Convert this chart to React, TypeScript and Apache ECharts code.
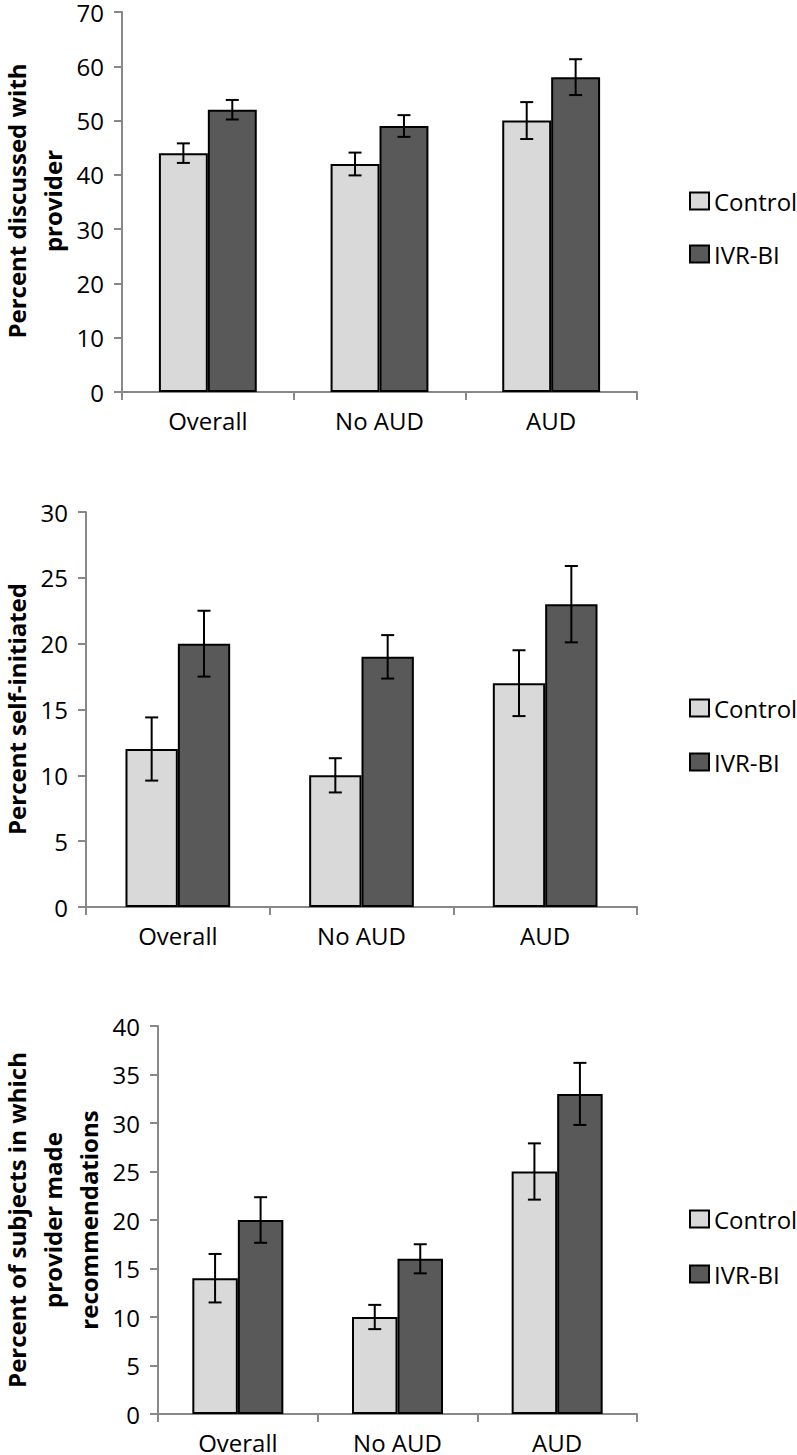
import React, { useEffect, useRef } from "react";
import * as echarts from "echarts";

const categories = ["Overall", "No AUD", "AUD"];
const seriesNames = ["Control", "IVR-BI"];

const discussedControl = [44, 42, 50];
const discussedControlErr = [1.8, 2.1, 3.4];
const discussedIVR = [52, 49, 58];
const discussedIVRErr = [1.8, 2.0, 3.3];

const selfControl = [12, 10, 17];
const selfControlErr = [2.4, 1.3, 2.5];
const selfIVR = [20, 19, 23];
const selfIVRErr = [2.5, 1.65, 2.9];

const recControl = [14, 10, 25];
const recControlErr = [2.5, 1.25, 2.9];
const recIVR = [20, 16, 33];
const recIVRErr = [2.35, 1.5, 3.2];

const yMax = [70, 30, 40];
const yInterval = [10, 5, 5];
const yTitleLines = [
  ["Percent discussed with", "provider"],
  ["Percent self-initiated"],
  ["Percent of subjects in which", "provider made", "recommendations"],
];

const FONT = '"Open Sans", "Noto Sans", sans-serif';
const GAP = 0.43;
const CONTROL_COLOR = "#d9d9d9";
const IVR_COLOR = "#595959";
const AXIS_COLOR = "#888888";

const grids = [
  { left: 122, top: 11, width: 515, height: 381 },
  { left: 86, top: 512, width: 551, height: 395 },
  { left: 158, top: 1026, width: 479, height: 388 },
];
const titleFirstX = 16.5;
const titleLineStep = 36;
const titleCenterY = [201, 709, 1220];
const legendPos = [
  { top: 184, gap: 29 },
  { top: 691, gap: 30 },
  { top: 1202, gap: 31 },
];

const panels = [
  { c: discussedControl, ce: discussedControlErr, v: discussedIVR, ve: discussedIVRErr },
  { c: selfControl, ce: selfControlErr, v: selfIVR, ve: selfIVRErr },
  { c: recControl, ce: recControlErr, v: recIVR, ve: recIVRErr },
];

function errRenderer(sign: number) {
  return (params: any, api: any) => {
    const cat = api.value(0);
    const lo = api.coord([cat, api.value(1)]);
    const hi = api.coord([cat, api.value(2)]);
    const band = api.size([1, 0])[0];
    const barW = (band * (1 - GAP)) / 2;
    const x = lo[0] + (sign * barW) / 2;
    const cap = 6.5;
    const st = { stroke: "#000", lineWidth: 2 };
    return {
      type: "group",
      children: [
        { type: "line", shape: { x1: x, y1: lo[1], x2: x, y2: hi[1] }, style: st },
        { type: "line", shape: { x1: x - cap, y1: hi[1], x2: x + cap, y2: hi[1] }, style: st },
        { type: "line", shape: { x1: x - cap, y1: lo[1], x2: x + cap, y2: lo[1] }, style: st },
      ],
    };
  };
}

export default function App() {
  const ref = useRef<HTMLDivElement>(null);
  useEffect(() => {
    if (!ref.current) return;
    const chart = echarts.init(ref.current, null, { renderer: "svg" });
    const series: any[] = [];
    panels.forEach((p, i) => {
      series.push({
        type: "bar",
        name: seriesNames[0],
        xAxisIndex: i,
        yAxisIndex: i,
        data: p.c,
        barGap: "0%",
        barCategoryGap: GAP * 100 + "%",
        itemStyle: { color: CONTROL_COLOR, borderColor: "#000", borderWidth: 2 },
      });
      series.push({
        type: "bar",
        name: seriesNames[1],
        xAxisIndex: i,
        yAxisIndex: i,
        data: p.v,
        barGap: "0%",
        barCategoryGap: GAP * 100 + "%",
        itemStyle: { color: IVR_COLOR, borderColor: "#000", borderWidth: 2 },
      });
      series.push({
        type: "custom",
        name: "Control error",
        xAxisIndex: i,
        yAxisIndex: i,
        z: 10,
        encode: { x: 0, y: [1, 2] },
        renderItem: errRenderer(-1),
        data: p.c.map((val, k) => [k, val - p.ce[k], val + p.ce[k]]),
      });
      series.push({
        type: "custom",
        name: "IVR-BI error",
        xAxisIndex: i,
        yAxisIndex: i,
        z: 10,
        encode: { x: 0, y: [1, 2] },
        renderItem: errRenderer(1),
        data: p.v.map((val, k) => [k, val - p.ve[k], val + p.ve[k]]),
      });
    });

    const graphic: any[] = [];
    yTitleLines.forEach((lines, i) => {
      lines.forEach((line, j) => {
        graphic.push({
          type: "text",
          x: titleFirstX + j * titleLineStep,
          y: titleCenterY[i],
          rotation: Math.PI / 2,
          style: {
            text: line,
            fontSize: 24,
            fontWeight: "bold",
            fontFamily: FONT,
            fill: "#000",
            align: "center",
            verticalAlign: "middle",
            lineHeight: 24,
          },
        });
      });
    });

    const option: any = {
      animation: false,
      grid: grids.map((g) => ({ ...g, containLabel: false })),
      xAxis: grids.map((_, i) => ({
        type: "category",
        gridIndex: i,
        data: categories,
        axisLine: { lineStyle: { color: AXIS_COLOR, width: 2 } },
        axisTick: { show: true, length: 8, lineStyle: { color: AXIS_COLOR, width: 2 } },
        axisLabel: { fontSize: 24, fontFamily: FONT, color: "#000", margin: 16, lineHeight: 24 },
        splitLine: { show: false },
      })),
      yAxis: grids.map((_, i) => ({
        type: "value",
        gridIndex: i,
        min: 0,
        max: yMax[i],
        interval: yInterval[i],
        axisLine: { show: true, lineStyle: { color: AXIS_COLOR, width: 2 } },
        axisTick: { show: true, length: 8, lineStyle: { color: AXIS_COLOR, width: 2 } },
        axisLabel: { fontSize: 24, fontFamily: FONT, color: "#000", margin: 18 },
        splitLine: { show: false },
      })),
      legend: legendPos.map((l) => ({
        data: seriesNames,
        orient: "vertical",
        left: 684,
        top: l.top,
        itemGap: l.gap,
        itemWidth: 19,
        itemHeight: 17,
        icon: "rect",
        selectedMode: false,
        itemStyle: { borderColor: "#000", borderWidth: 2 },
        textStyle: { fontSize: 24, fontFamily: FONT, color: "#000", lineHeight: 24 },
      })),
      graphic,
      series,
    };
    chart.setOption(option);
    return () => chart.dispose();
  }, []);
  return (
    <div
      ref={ref}
      style={{ position: "absolute", left: 0, top: 0, width: 797, height: 1455, background: "#fff" }}
    />
  );
}
